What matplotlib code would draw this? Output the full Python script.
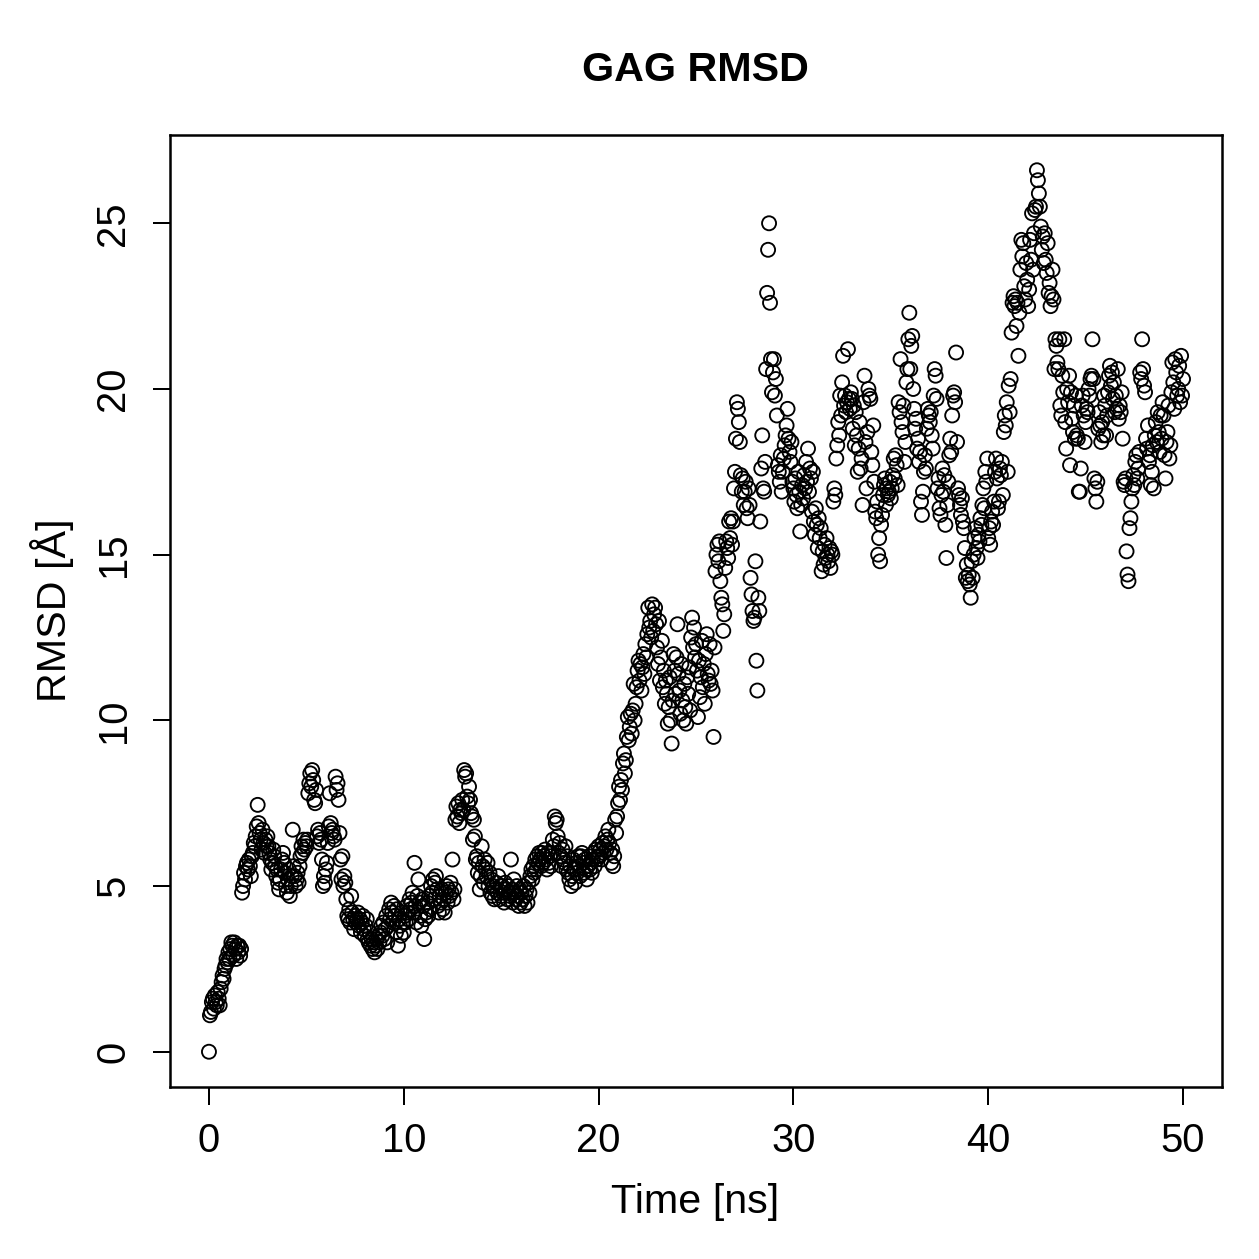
import numpy as np
import matplotlib
matplotlib.use("Agg")
import matplotlib.pyplot as plt

# RMSD values, one row per nanosecond (20 frames per ns)
rmsd = [
    0.0, 1.1, 1.2, 1.5, 1.6, 1.3, 1.7, 1.5, 1.4, 1.8, 1.6, 1.4, 1.9, 2.1, 2.3, 2.2, 2.5, 2.6, 2.8, 2.7,
    3.0, 2.8, 3.1, 3.3, 3.2, 2.9, 3.3, 3.1, 2.8, 3.2, 3.0, 3.2, 2.9, 3.1, 4.8, 5.0, 5.4, 5.2, 5.6, 5.7,
    5.5, 5.8, 5.6, 5.3, 5.9, 6.0, 6.3, 6.2, 6.5, 6.8, 7.45, 6.9, 6.6, 6.4, 6.1, 6.7, 6.3, 6.0, 6.4, 6.2,
    6.5, 6.2, 6.0, 5.8, 5.5, 5.7, 6.1, 5.9, 5.6, 5.3, 5.5, 5.1, 4.9, 5.2, 5.5, 5.8, 6.0, 5.7, 5.4, 5.0,
    4.8, 5.2, 5.5, 4.7, 5.0, 5.3, 6.7, 5.6, 5.3, 5.0, 5.2, 5.4, 5.1, 5.6, 5.9, 6.2, 6.0, 6.4, 6.1, 6.3,
    6.2, 6.4, 7.8, 8.1, 8.4, 8.0, 8.5, 8.2, 7.6, 7.5, 7.9, 6.5, 6.7, 6.3, 6.6, 6.4, 5.8, 5.0, 5.3, 5.1,
    5.5, 5.7, 6.3, 6.8, 7.8, 6.9, 6.6, 6.7, 6.5, 6.4, 8.3, 7.9, 8.1, 7.6, 6.6, 5.8, 5.2, 5.9, 5.0, 5.3,
    5.1, 4.6, 4.1, 4.0, 4.3, 3.9, 4.7, 4.2, 4.0, 3.7, 4.1, 3.9, 4.0, 4.2, 3.8, 4.0, 3.6, 3.9, 4.1, 3.7,
    3.5, 3.8, 4.0, 3.4, 3.3, 3.6, 3.2, 3.4, 3.1, 3.3, 3.0, 3.2, 3.4, 3.1, 3.5, 3.3, 3.6, 3.8, 3.5, 3.9,
    3.4, 3.7, 4.1, 3.3, 3.8, 4.3, 4.0, 4.5, 4.2, 3.9, 4.4, 4.1, 3.6, 4.3, 3.2, 4.0, 3.8, 3.5, 4.2, 3.9,
    3.6, 4.1, 3.9, 4.4, 4.2, 4.0, 4.6, 4.3, 4.5, 4.8, 4.2, 5.7, 4.4, 3.9, 4.7, 5.2, 4.5, 4.1, 3.8, 4.6,
    4.4, 3.4, 4.0, 4.2, 4.5, 4.1, 4.7, 4.3, 5.0, 4.8, 5.2, 4.6, 5.1, 5.3, 4.9, 4.4, 4.2, 4.7, 4.5, 4.9,
    4.3, 4.6, 4.2, 4.8, 5.0, 4.5, 4.9, 4.7, 5.1, 4.8, 5.8, 4.6, 4.9, 7.0, 7.4, 7.1, 7.5, 6.9, 7.3, 7.2,
    7.6, 7.3, 8.5, 8.3, 8.4, 7.7, 7.5, 8.0, 7.6, 7.2, 7.1, 6.4, 7.0, 6.5, 5.8, 5.9, 5.4, 5.7, 4.9, 5.3,
    6.2, 5.6, 5.1, 5.8, 5.5, 5.3, 5.7, 5.0, 5.4, 4.8, 5.2, 4.7, 5.0, 4.6, 4.9, 5.1, 4.8, 5.3, 4.6, 5.0,
    4.7, 5.0, 4.8, 4.5, 5.1, 4.9, 4.6, 5.0, 4.8, 4.7, 5.8, 4.9, 4.5, 5.2, 4.8, 4.6, 5.0, 4.7, 4.4, 4.9,
    4.5, 4.8, 4.6, 5.0, 4.4, 4.7, 4.9, 4.5, 5.1, 4.8, 5.3, 5.5, 5.2, 5.6, 5.4, 5.8, 5.5, 5.9, 5.7, 6.0,
    5.8, 5.6, 6.0, 5.7, 5.9, 6.1, 5.8, 5.5, 6.0, 5.7, 5.9, 5.6, 6.0, 6.4, 6.2, 7.1, 6.9, 7.0, 6.5, 6.0,
    6.3, 5.9, 5.6, 6.1, 5.8, 5.7, 6.2, 5.5, 5.9, 5.4, 5.2, 5.6, 5.0, 5.3, 5.8, 5.5, 5.1, 5.7, 5.4, 5.9,
    5.6, 5.3, 5.9, 6.0, 5.7, 5.4, 5.8, 5.5, 5.2, 5.6, 5.9, 5.5, 5.7, 5.4, 5.8, 6.0, 5.6, 6.1, 5.8, 5.9,
    6.2, 5.9, 6.1, 5.8, 6.3, 6.0, 6.2, 6.5, 6.1, 6.4, 6.7, 6.3, 6.0, 5.7, 6.1, 5.6, 5.9, 7.0, 6.6, 7.1,
    7.5, 8.0, 7.6, 8.2, 7.9, 8.7, 9.0, 8.4, 8.8, 9.5, 10.1, 9.4, 9.8, 10.2, 9.6, 10.3, 11.1, 10.0, 10.5, 11.0,
    11.5, 11.8, 11.2, 11.7, 10.9, 11.6, 12.0, 11.4, 12.3, 11.9, 12.6, 13.4, 12.8, 13.0, 12.5, 13.5, 12.7, 13.2, 13.4, 12.9,
    12.2, 11.7, 13.0, 11.2, 11.9, 12.4, 11.0, 11.5, 10.5, 11.2, 10.8, 9.9, 10.4, 11.3, 10.0, 9.3, 10.6, 12.0, 11.5, 10.8,
    11.9, 12.9, 11.4, 10.9, 10.2, 11.7, 10.6, 10.0, 11.1, 10.4, 9.9, 11.3, 10.8, 11.6, 10.3, 12.5, 13.1, 12.2, 12.8, 11.9,
    12.3, 11.5, 10.1, 11.8, 10.7, 11.3, 12.4, 11.0, 11.7, 10.5, 12.0, 12.6, 11.4, 11.2, 12.3, 11.1, 11.5, 10.9, 9.5, 12.2,
    14.5, 15.0, 15.3, 14.8, 15.4, 14.2, 13.7, 13.5, 12.7, 13.2, 14.6, 15.4, 15.2, 14.9, 16.0, 15.5, 16.1, 15.3, 16.0, 17.0,
    17.5, 18.5, 19.6, 19.4, 19.0, 18.4, 17.4, 16.9, 17.3, 16.5, 16.9, 17.2, 16.4, 16.1, 17.0, 16.5, 14.3, 13.8, 13.3, 13.0,
    13.1, 14.8, 11.8, 10.9, 13.7, 13.3, 16.0, 17.6, 18.6, 17.0, 16.9, 17.8, 20.6, 22.9, 24.2, 25.0, 22.6, 20.9, 19.9, 20.5,
    20.9, 19.8, 20.3, 19.2, 17.7, 17.5, 17.2, 18.0, 16.9, 17.5, 17.9, 18.3, 18.6, 18.9, 19.4, 18.5, 18.1, 17.8, 18.4, 17.2,
    17.0, 16.6, 17.3, 16.8, 16.4, 17.5, 16.9, 15.7, 16.5, 17.1, 16.7, 17.4, 17.0, 17.8, 17.2, 18.2, 16.9, 17.6, 17.3, 16.3,
    17.5, 16.0, 15.6, 16.4, 15.9, 15.2, 16.1, 15.5, 15.8, 14.5, 15.1, 14.7, 15.3, 14.9, 15.5, 15.0, 14.8, 15.2, 14.6, 15.1,
    15.0, 16.6, 17.0, 16.8, 17.9, 18.3, 19.0, 18.6, 19.8, 19.2, 20.2, 21.0, 19.5, 19.8, 19.3, 19.6, 21.2, 19.7, 19.4, 19.9,
    19.7, 18.8, 19.5, 18.3, 19.3, 18.6, 17.5, 18.2, 19.0, 17.6, 17.9, 16.5, 19.6, 20.4, 18.4, 17.0, 18.7, 20.0, 19.8, 19.7,
    18.1, 17.7, 18.9, 17.2, 16.3, 16.1, 16.6, 15.0, 15.5, 14.8, 15.9, 16.2, 16.8, 17.1, 17.3, 16.5, 17.0, 16.8, 16.9, 17.2,
    16.7, 17.0, 17.4, 17.9, 17.3, 18.0, 17.7, 17.1, 19.6, 19.3, 20.9, 19.0, 18.7, 19.5, 17.8, 18.4, 20.2, 20.6, 21.5, 22.3,
    20.6, 21.3, 21.6, 20.0, 19.4, 18.8, 19.1, 18.2, 18.5, 17.8, 18.1, 16.6, 16.2, 16.9, 17.5, 18.0, 17.6, 18.8, 19.4, 19.2,
    19.0, 19.3, 18.6, 18.2, 19.8, 20.6, 20.4, 19.7, 17.0, 17.3, 16.4, 16.2, 16.8, 17.6, 16.9, 17.4, 15.9, 14.9, 16.5, 17.2,
    18.0, 18.5, 18.1, 19.2, 19.8, 19.9, 19.6, 21.1, 18.4, 17.0, 16.8, 16.5, 16.2, 16.7, 16.0, 15.8, 15.2, 14.3, 14.7, 14.2,
    14.4, 14.1, 13.7, 14.8, 14.3, 15.0, 15.5, 15.8, 15.2, 14.9, 15.6, 15.4, 16.1, 15.9, 16.5, 17.0, 16.4, 17.5, 17.2, 17.9,
    15.5, 15.8, 15.3, 16.0, 16.3, 15.9, 16.6, 17.5, 17.9, 17.3, 16.4, 16.6, 17.6, 17.4, 17.8, 16.8, 18.7, 19.2, 18.9, 19.6,
    17.5, 20.1, 19.3, 20.3, 21.7, 22.6, 22.8, 22.5, 22.7, 21.9, 22.6, 21.0, 22.3, 23.6, 24.5, 24.0, 24.4, 23.1, 22.7, 23.8,
    23.3, 22.5, 23.0, 24.5, 23.9, 25.3, 23.6, 24.7, 25.4, 25.5, 26.6, 26.3, 25.9, 25.5, 24.9, 24.2, 24.6, 23.8, 24.7, 23.9,
    23.5, 24.4, 22.9, 23.2, 22.5, 22.8, 23.6, 22.7, 20.6, 21.5, 21.3, 20.8, 20.6, 21.5, 19.5, 19.2, 20.4, 19.9, 21.5, 19.0,
    18.2, 20.0, 19.6, 20.4, 17.7, 19.9, 19.1, 18.7, 19.5, 18.5, 19.8, 18.6, 18.5, 16.9, 16.9, 17.6, 19.5, 19.8, 19.2, 18.4,
    19.0, 19.4, 19.3, 20.0, 19.8, 20.3, 20.4, 21.5, 20.3, 17.3, 17.0, 16.6, 17.2, 18.8, 19.3, 18.9, 18.4, 19.0, 18.6, 19.8,
    19.5, 18.6, 19.2, 19.9, 20.4, 20.7, 20.1, 20.5, 19.7, 20.2, 19.3, 19.8, 19.4, 20.6, 19.1, 19.5, 19.3, 19.9, 18.5, 17.2,
    17.1, 17.3, 15.1, 14.4, 14.2, 15.8, 16.1, 16.6, 17.0, 17.4, 17.1, 17.8, 18.0, 17.3, 17.6, 18.1, 20.5, 20.3, 21.5, 20.6,
    20.1, 19.9, 18.5, 18.2, 18.9, 17.8, 18.0, 17.1, 17.5, 18.3, 17.0, 18.6, 19.0, 18.4, 19.3, 18.7, 18.1, 19.2, 18.5, 19.6,
    19.2, 18.0, 17.3, 18.4, 18.7, 19.5, 17.9, 18.3, 19.9, 20.8, 20.2, 19.4, 20.9, 20.5, 19.8, 20.0, 20.7, 19.6, 21.0, 19.8,
    20.3,
]
frame_step_ns = 0.05
time_ns = np.arange(len(rmsd)) * frame_step_ns

x_ticks = [0, 10, 20, 30, 40, 50]
y_ticks = [0, 5, 10, 15, 20, 25]

plt.rcParams['font.family'] = ['Liberation Sans', 'DejaVu Sans']

fig = plt.figure(figsize=(1259 / 180, 1259 / 180), dpi=180)
ax = fig.add_axes([170 / 1259, 1 - 1087 / 1259, (1222 - 170) / 1259, (1087 - 135) / 1259])

ax.scatter(time_ns, rmsd, s=5.6 ** 2, facecolors='none', edgecolors='black', linewidths=0.75)

ax.set_xlim(-2, 52)
ax.set_ylim(-1.064, 27.664)
ax.set_xticks(x_ticks)
ax.set_yticks(y_ticks)
ax.tick_params(direction='out', length=7, width=0.8, labelsize=16, colors='black')
ax.tick_params(axis='x', pad=7)
ax.tick_params(axis='y', pad=8)
for lab in ax.get_yticklabels():
    lab.set_rotation(90)
    lab.set_va('center')
for sp in ax.spines.values():
    sp.set_linewidth(1.0)

fig.text(695 / 1259, 1 - 70 / 1259, 'GAG RMSD', ha='center', va='center', fontsize=16.5, fontweight='bold')
fig.text(695 / 1259, 1 - 1202 / 1259, 'Time [ns]', ha='center', va='center', fontsize=16.5)
fig.text(52 / 1259, 1 - 610 / 1259, 'RMSD [Å]', ha='center', va='center', fontsize=16.5, rotation=90)

fig.savefig('out.png', dpi=180)
